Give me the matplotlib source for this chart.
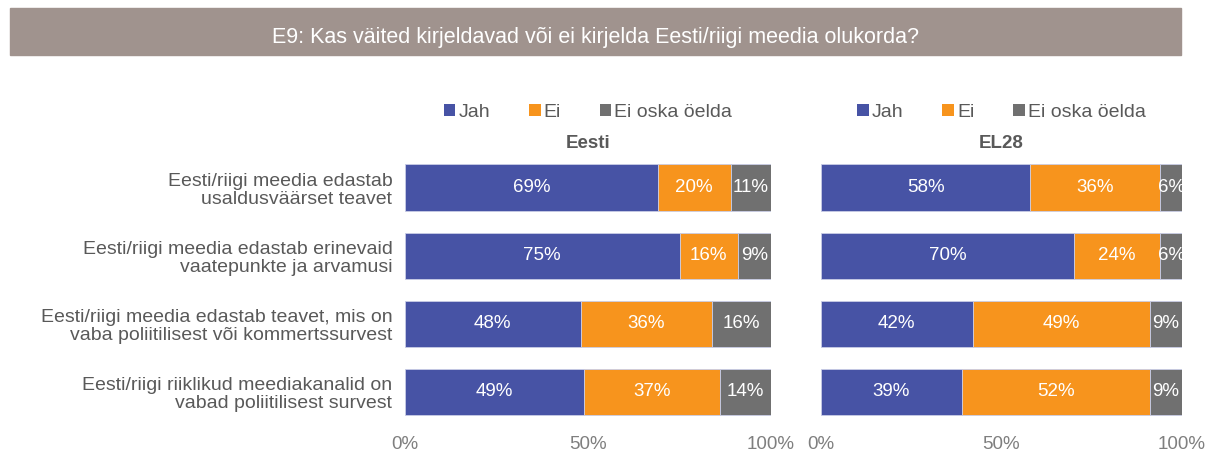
import numpy as np
import matplotlib
matplotlib.use("Agg")
import matplotlib.pyplot as plt
from matplotlib import font_manager
from matplotlib.patches import Patch

# ---------- data ----------
TITLE = "E9: Kas väited kirjeldavad või ei kirjelda Eesti/riigi meedia olukorda?"
CATEGORIES = [
    "Eesti/riigi meedia edastab\nusaldusväärset teavet",
    "Eesti/riigi meedia edastab erinevaid\nvaatepunkte ja arvamusi",
    "Eesti/riigi meedia edastab teavet, mis on\nvaba poliitilisest või kommertssurvest",
    "Eesti/riigi riiklikud meediakanalid on\nvabad poliitilisest survest",
]
SERIES = ["Jah", "Ei", "Ei oska öelda"]
COLORS = ["#4753a5", "#f7941d", "#707070"]

eesti_jah = [69, 75, 48, 49]
eesti_ei = [20, 16, 36, 37]
eesti_eoo = [11, 9, 16, 14]

el28_jah = [58, 70, 42, 39]
el28_ei = [36, 24, 49, 52]
el28_eoo = [6, 6, 9, 9]

PANELS = [
    ("Eesti", [eesti_jah, eesti_ei, eesti_eoo]),
    ("EL28", [el28_jah, el28_ei, el28_eoo]),
]
XTICKS = [0, 50, 100]

# ---------- fonts ----------
names = {f.name for f in font_manager.fontManager.ttflist}
narrow = "Liberation Sans Narrow" if "Liberation Sans Narrow" in names else "Liberation Sans"
plt.rcParams["font.family"] = [narrow, "DejaVu Sans"]

W, H = 1211, 461
fig = plt.figure(figsize=(W / 100, H / 100), dpi=100)

# title banner
fig.patches.append(plt.Rectangle((10 / W, 1 - 55 / H), 1171 / W, 47 / H,
                                 transform=fig.transFigure, color="#a0938e", zorder=0))
fig.text(595 / W, 1 - 37 / H, TITLE, ha="center", va="center", color="white", fontsize=15.5)

ax_bottom = 1 - 426 / H
ax_height = (426 - 153.5) / H
lefts = [(405, 366), (821, 361)]
label_grey = "#595959"
FS = 13.5

for i, (name, vals) in enumerate(PANELS):
    x0, w = lefts[i]
    ax = fig.add_axes([x0 / W, ax_bottom, w / W, ax_height])
    y = np.arange(len(CATEGORIES))
    left = np.zeros(len(CATEGORIES))
    for s, (v, c) in enumerate(zip(vals, COLORS)):
        v = np.array(v, dtype=float)
        ax.barh(y, v, left=left, height=0.68, color=c, edgecolor="#c9cde6", linewidth=0.6)
        for yy, l, vv in zip(y, left, v):
            ax.text(l + vv / 2, yy, f"{int(vv)}%", ha="center", va="center",
                    color="white", fontsize=FS)
        left += v
    ax.set_xlim(0, 100)
    ax.set_ylim(len(CATEGORIES) - 0.5, -0.5)
    ax.set_xticks(XTICKS)
    ax.set_xticklabels([f"{t}%" for t in XTICKS], color="#7f7f7f", fontsize=FS)
    ax.tick_params(axis="x", length=0, pad=7)
    for sp in ax.spines.values():
        sp.set_visible(False)
    if i == 0:
        ax.set_yticks(y)
        ax.set_yticklabels(CATEGORIES, color=label_grey, fontsize=14, linespacing=1.1)
        ax.tick_params(axis="y", length=0, pad=9)
    else:
        ax.set_yticks([])
    ax.text(0.5, 1.007, name, transform=ax.transAxes, ha="center", va="bottom",
            fontsize=FS, fontweight="bold", color=label_grey)
    handles = [Patch(facecolor=c, edgecolor="none") for c in COLORS]
    ax.legend(handles, SERIES, ncol=3, loc="lower center", bbox_to_anchor=(0.5, 1.055),
              frameon=False, fontsize=14, handlelength=0.6, handleheight=0.6,
              handletextpad=0.15, columnspacing=2.0, labelcolor=label_grey)

fig.savefig("out.png", dpi=100)
